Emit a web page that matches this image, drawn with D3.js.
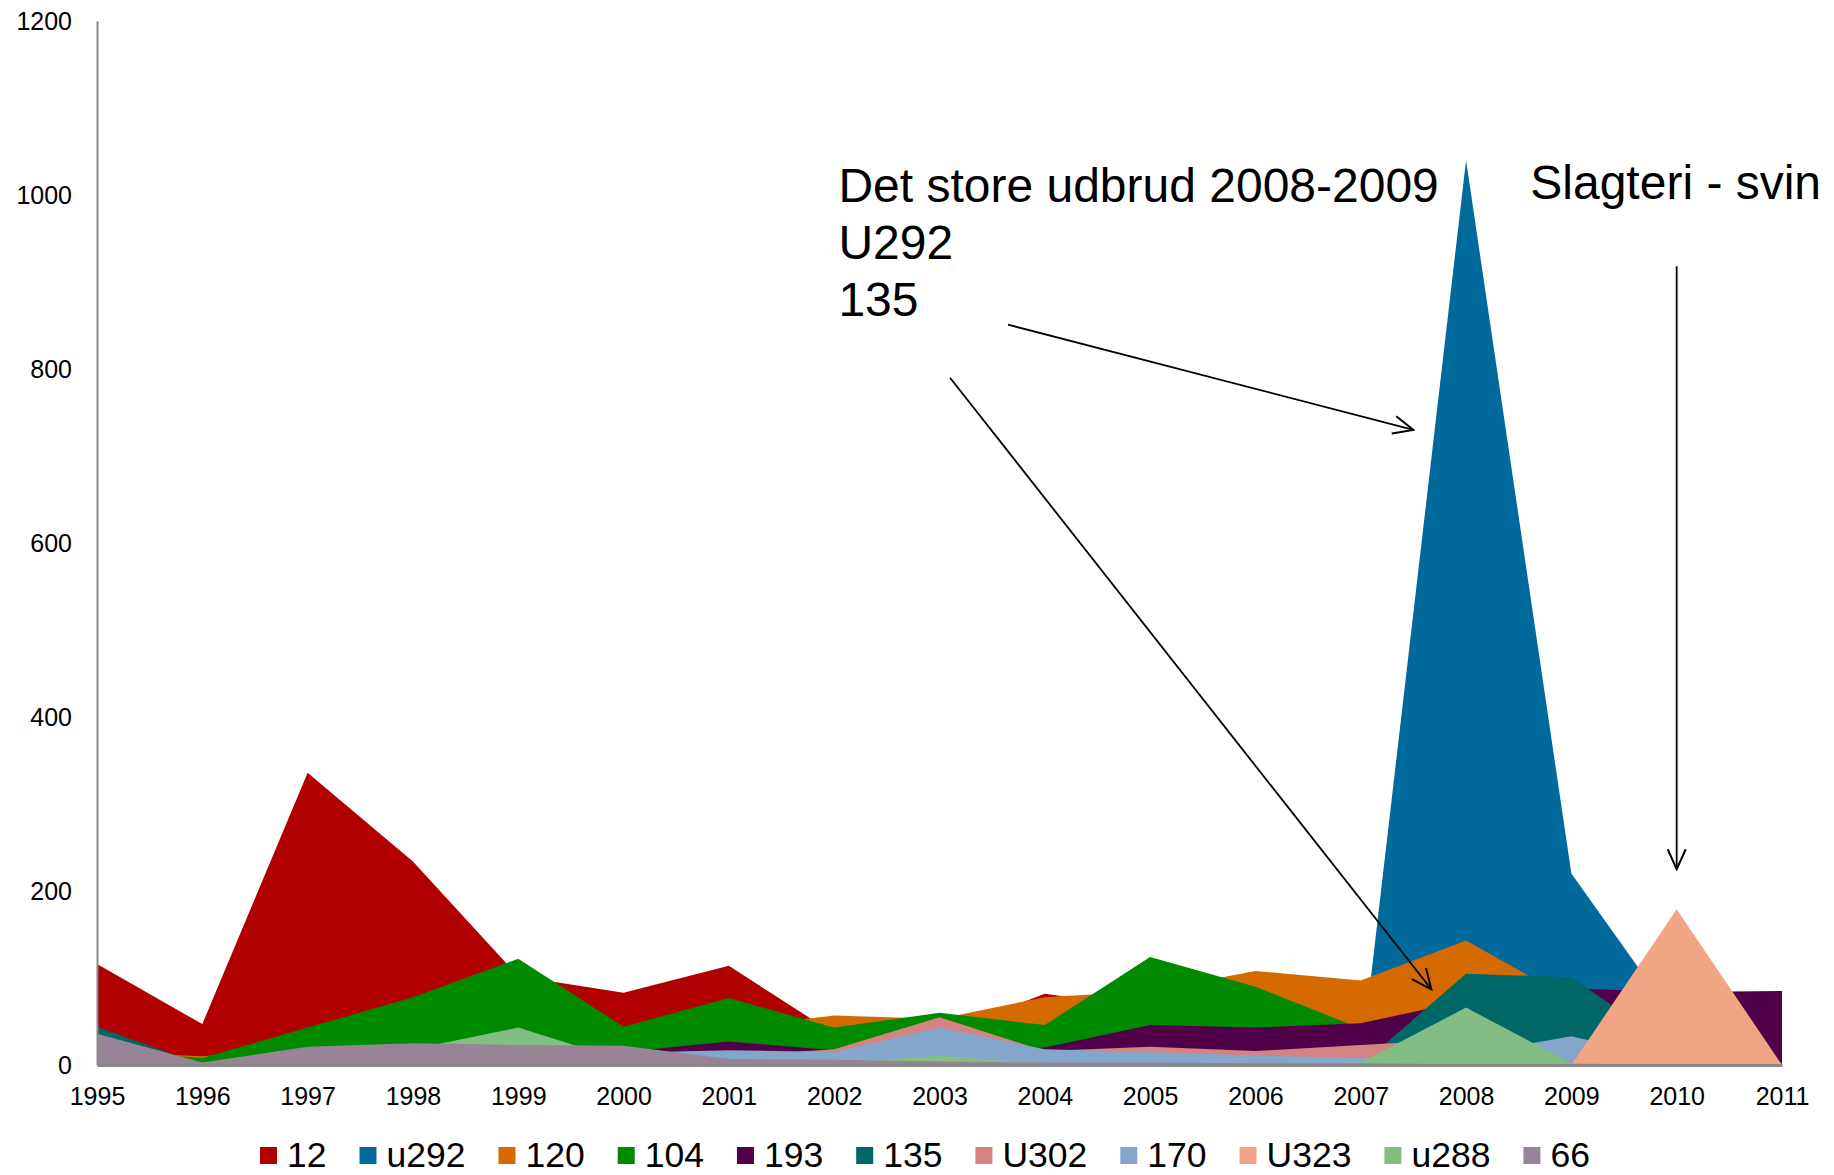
<!DOCTYPE html>
<html>
<head>
<meta charset="utf-8">
<script src="https://cdn.jsdelivr.net/npm/d3@7"></script>
<style>
    body { margin: 0; background: #fff; }
    text { font-family: "Liberation Sans", Arial, sans-serif; fill: #000; }
</style>
</head>
<body>
<div id="chart"></div>
<script>

// years on the x axis
const years = [1995, 1996, 1997, 1998, 1999, 2000, 2001, 2002, 2003, 2004, 2005, 2006, 2007, 2008, 2009, 2010, 2011];

// one array per type, in the legend order (first one is drawn at the back)
const s12   = [116, 47, 336, 234, 102, 83, 114, 36, 35, 82, 65, 30, 20, 30, 20, 10, 5];
const u292  = [0, 0, 0, 0, 0, 0, 0, 0, 0, 0, 0, 0, 0, 1040, 220, 50, 0];
const s120  = [15, 10, 20, 25, 30, 25, 42, 57, 53, 78, 85, 108, 97, 143, 75, 0, 0];
const s104  = [16, 8, 43, 78, 122, 44, 77, 43, 60, 46, 124, 90, 42, 20, 10, 0, 0];
const s193  = [5, 2, 5, 8, 10, 15, 27, 17, 15, 20, 46, 43, 48, 74, 88, 84, 85];
const s135  = [44, 0, 0, 0, 0, 0, 0, 0, 0, 0, 0, 0, 0, 105, 101, 17, 3];
const u302  = [5, 2, 5, 5, 5, 5, 10, 18, 55, 16, 21, 16, 23, 30, 10, 0, 0];
const s170  = [5, 2, 5, 5, 8, 14, 17, 15, 43, 18, 15, 11, 8, 12, 33, 5, 0];
const u323  = [0, 0, 0, 0, 0, 0, 0, 0, 0, 0, 0, 0, 0, 0, 0, 179, 0];
const u288  = [0, 0, 5, 18, 43, 5, 2, 2, 11, 1, 1, 1, 3, 66, 2, 0, 0];
const s66   = [36, 3, 21, 25, 23, 22, 7, 6, 4, 3, 3, 2, 2, 1, 1, 0, 0];

const seriesNames  = ["12", "u292", "120", "104", "193", "135", "U302", "170", "U323", "u288", "66"];
const seriesValues = [s12, u292, s120, s104, s193, s135, u302, s170, u323, u288, s66];
const seriesColors = ["#b00000", "#006a9c", "#d56a00", "#008a00", "#4f0049", "#006766",
                      "#d58282", "#84a6ca", "#f2a585", "#84bd84", "#978496"];

const yTicks = [0, 200, 400, 600, 800, 1000, 1200];

// annotations, placed in data units (year, value)
const noteTexts = [
    {lines: ["Det store udbrud 2008-2009", "U292", "135"], year: 2002.04, value: 992},
    {lines: ["Slagteri - svin"], year: 2008.61, value: 995}
];
const noteArrows = [
    {from: [2003.65, 851], to: [2007.50, 730]},
    {from: [2003.10, 790], to: [2007.67, 87]},
    {from: [2010, 918], to: [2010, 225]}
];


const width = 1834, height = 1175;

const xScale = d3.scaleLinear()
    .domain([1995, 2011])
    .range([97, 1782]);

const yScale = d3.scaleLinear()
    .domain([0, 1200])
    .range([1065, 21]);

const svg = d3.select("#chart")
    .append("svg")
    .attr("width", width)
    .attr("height", height);

svg.append("defs").append("marker")
    .attr("id", "arrow")
    .attr("viewBox", "0 0 24 24")
    .attr("markerWidth", 24)
    .attr("markerHeight", 24)
    .attr("markerUnits", "userSpaceOnUse")
    .attr("refX", 22)
    .attr("refY", 12)
    .attr("orient", "auto")
    .append("path")
    .attr("d", "M2,3 L22,12 L2,21")
    .attr("fill", "none")
    .attr("stroke", "#000")
    .attr("stroke-width", 2);

/* areas, overlapping, each from zero */
const area = d3.area()
    .x(function (d, i) { return xScale(years[i]); })
    .y0(yScale(0))
    .y1(function (d) { return yScale(d); });

svg.selectAll(".area")
    .data(seriesValues)
    .enter()
    .append("path")
    .attr("class", "area")
    .attr("d", area)
    .attr("fill", function (d, i) { return seriesColors[i]; });

/* axes */
const yAxis = svg.append("g")
    .attr("transform", "translate(" + xScale(1995) + ",0)")
    .call(d3.axisLeft(yScale)
        .tickValues(yTicks)
        .tickSize(0)
        .tickPadding(25)
        .tickFormat(d3.format("d")));

yAxis.select(".domain").attr("stroke", "#888").attr("stroke-width", 2);
yAxis.selectAll("text").style("font-size", "25px");

const xAxis = svg.append("g")
    .attr("transform", "translate(0," + yScale(0) + ")")
    .call(d3.axisBottom(xScale)
        .tickValues(years)
        .tickSize(0)
        .tickPadding(22)
        .tickFormat(d3.format("d")));

xAxis.select(".domain").attr("stroke", "#888").attr("stroke-width", 3);
xAxis.selectAll("text").style("font-size", "25px");

/* annotations */
noteTexts.forEach(function (n) {
    const t = svg.append("text")
        .attr("x", xScale(n.year))
        .attr("y", yScale(n.value))
        .style("font-size", "48px");
    n.lines.forEach(function (line, i) {
        t.append("tspan")
            .attr("x", xScale(n.year))
            .attr("dy", i === 0 ? 0 : 57)
            .text(line);
    });
});

svg.selectAll(".note-arrow")
    .data(noteArrows)
    .enter()
    .append("line")
    .attr("class", "note-arrow")
    .attr("x1", function (d) { return xScale(d.from[0]); })
    .attr("y1", function (d) { return yScale(d.from[1]); })
    .attr("x2", function (d) { return xScale(d.to[0]); })
    .attr("y2", function (d) { return yScale(d.to[1]); })
    .attr("stroke", "#000")
    .attr("stroke-width", 1.8)
    .attr("marker-end", "url(#arrow)");

/* legend */
const legend = svg.append("g").attr("class", "legend");
let lx = 260;
seriesNames.forEach(function (name, i) {
    legend.append("rect")
        .attr("x", lx)
        .attr("y", 1147)
        .attr("width", 17)
        .attr("height", 17)
        .attr("fill", seriesColors[i]);
    const t = legend.append("text")
        .attr("x", lx + 27)
        .attr("y", 1167)
        .style("font-size", "35.5px")
        .text(name);
    lx += 27 + t.node().getComputedTextLength() + 33;
});

</script>
</body>
</html>
